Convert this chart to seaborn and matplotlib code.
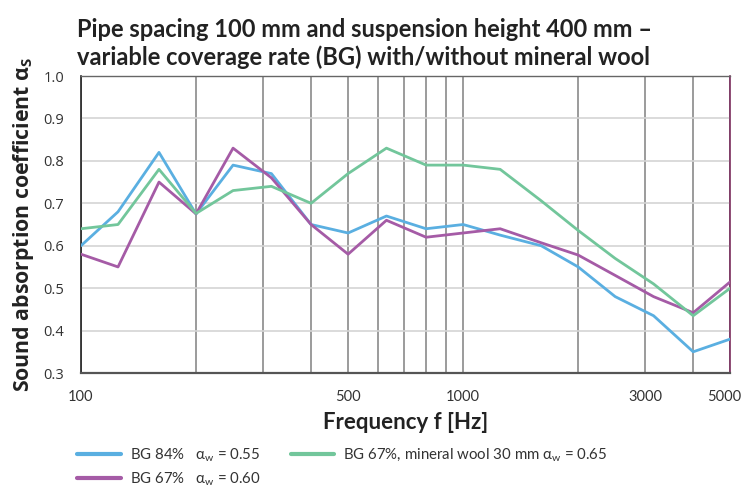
import numpy as np
import pandas as pd
import matplotlib
matplotlib.use("Agg")
import matplotlib.pyplot as plt
import matplotlib.transforms as mtransforms
from matplotlib.ticker import LogLocator, FixedLocator, NullFormatter, FixedFormatter
import seaborn as sns

freqs = [100, 125, 160, 200, 250, 315, 400, 500, 630, 800, 1000, 1250, 1600,
         2000, 2500, 3150, 4000, 5000]
bg84 = [0.60, 0.68, 0.82, 0.675, 0.79, 0.77, 0.65, 0.63, 0.67, 0.64, 0.65,
        0.625, 0.60, 0.55, 0.48, 0.435, 0.35, 0.38]
bg67 = [0.58, 0.55, 0.75, 0.675, 0.83, 0.76, 0.65, 0.58, 0.66, 0.62, 0.63,
        0.64, 0.607, 0.578, 0.53, 0.48, 0.442, 0.515]
bg67_mw = [0.64, 0.65, 0.78, 0.676, 0.73, 0.74, 0.70, 0.77, 0.83, 0.79, 0.79,
           0.78, 0.706, 0.636, 0.57, 0.51, 0.435, 0.50]
series_names = ["BG 84%   α$_\\mathregular{w}$ = 0.55",
                "BG 67%   α$_\\mathregular{w}$ = 0.60",
                "BG 67%, mineral wool 30 mm α$_\\mathregular{w}$ = 0.65"]
colors = ["#5aafe1", "#a55ba6", "#72c69b"]
x_tick_vals = [100, 500, 1000, 3000, 5000]
x_tick_labels = ["100", "500", "1000", "3000", "5000"]
y_tick_vals = [0.3, 0.4, 0.5, 0.6, 0.7, 0.8, 0.9, 1.0]

df = pd.concat([
    pd.DataFrame({"f": freqs, "a": vals, "series": name})
    for name, vals in zip(series_names, [bg84, bg67, bg67_mw])
])

sns.set_style("white")
narrow = ["Lato", "DejaVu Sans"]
plt.rcParams["font.family"] = ["Open Sans", "DejaVu Sans"]
plt.rcParams["mathtext.fontset"] = "custom"
plt.rcParams["mathtext.rm"] = "Lato"

fig = plt.figure(figsize=(7.45, 4.86), dpi=100)
ax = fig.add_axes([0.1087, 0.2325, 0.8715, 0.6111])

sns.lineplot(data=df, x="f", y="a", hue="series", palette=colors,
             linewidth=2.0, ax=ax, legend=False, zorder=3)

ax.set_xscale("log")
ax.set_xlim(100, 5000)
ax.set_ylim(0.3, 1.0)

ax.xaxis.set_major_locator(FixedLocator(x_tick_vals))
ax.xaxis.set_major_formatter(FixedFormatter(x_tick_labels))
ax.xaxis.set_minor_locator(LogLocator(base=10, subs=np.arange(2, 10)))
ax.xaxis.set_minor_formatter(NullFormatter())
ax.yaxis.set_major_locator(FixedLocator(y_tick_vals))
ax.set_yticklabels([f"{v:.1f}" for v in y_tick_vals])

ax.grid(False)
ax.grid(True, axis="x", which="both", color="#8a8a8a", lw=1.2, zorder=1)
ax.grid(True, axis="y", which="major", color="#d4d4d4", lw=1.2, zorder=0)
ax.set_axisbelow(True)

ax.tick_params(axis="x", which="major", direction="out", length=5, width=1,
               color="#333333", labelsize=10.5, labelcolor="#333333", pad=7)
ax.tick_params(axis="x", which="minor", length=0)
ax.tick_params(axis="y", which="major", direction="out", length=8, width=1,
               color="#333333", labelsize=10.5, labelcolor="#333333", pad=4)
xlabels = ax.get_xticklabels()
for lab in xlabels:
    lab.set_family(narrow)
xlabels[-1].set_transform(xlabels[-1].get_transform() +
                          mtransforms.ScaledTranslation(-6 / 100, 0, fig.dpi_scale_trans))

for s, c, w in [("left", "#222222", 1.2), ("bottom", "#555555", 1.6),
                ("top", "#666666", 1.0), ("right", "#7b2d5e", 1.2)]:
    ax.spines[s].set_visible(True)
    ax.spines[s].set_color(c)
    ax.spines[s].set_linewidth(w)

ax.set_xlabel("Frequency f [Hz]", fontsize=16, fontweight="bold",
              family=narrow, color="#222222", labelpad=6)
ax.set_ylabel("Sound absorption coefficient α$_\\mathregular{S}$", fontsize=15.3,
              fontweight="bold", color="#222222", labelpad=5)

fig.text(0.103, 0.91, "Pipe spacing 100 mm and suspension height 400 mm –\n"
         "variable coverage rate (BG) with/without mineral wool",
         fontsize=17, fontweight="bold", family=narrow, color="#222222",
         ha="left", va="center", linespacing=1.25)

handles = [plt.Line2D([], [], color=c, lw=3) for c in colors]
leg = fig.legend(handles, series_names, loc="upper left",
                 bbox_to_anchor=(0.104, 0.082), ncol=2, frameon=False,
                 handlelength=2.9, handletextpad=0.6,
                 columnspacing=2.0, labelspacing=0.4,
                 borderpad=0, borderaxespad=0,
                 prop={"family": narrow, "size": 10.8})
for t in leg.get_texts():
    t.set_color("#333333")

fig.savefig("out.png", dpi=100)
